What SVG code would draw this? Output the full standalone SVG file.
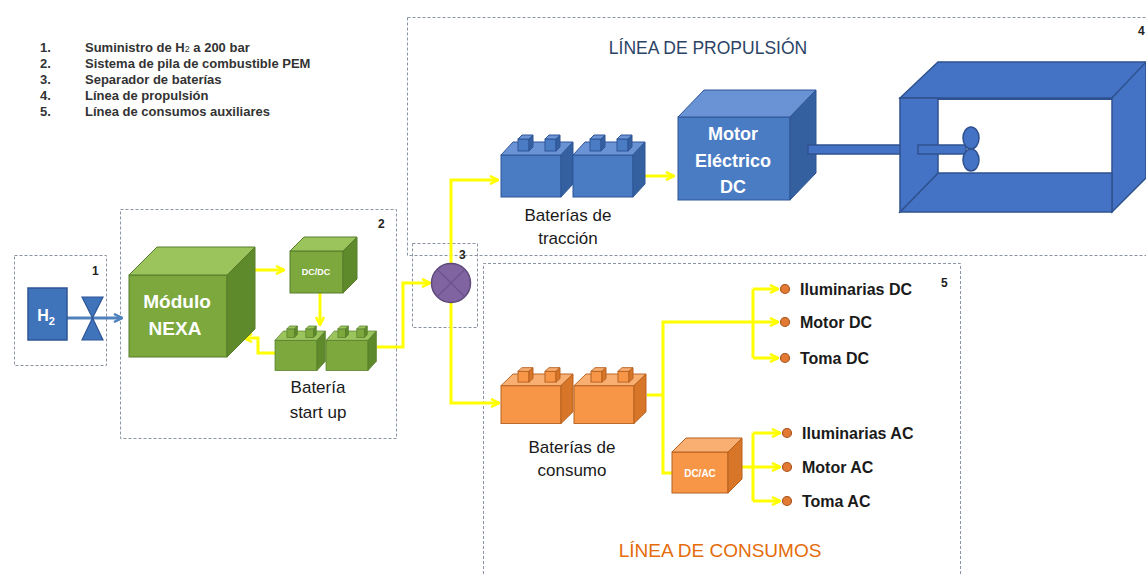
<svg xmlns="http://www.w3.org/2000/svg" xmlns:xlink="http://www.w3.org/1999/xlink" width="1146" height="574" viewBox="0 0 1146 574">
  <style>
    text { font-family: "Liberation Sans", Arial, sans-serif; }
    .legend { font-size: 13px; font-weight: bold; fill: #333; }
    .num { font-size: 12px; font-weight: bold; fill: #222; }
    .caption { font-size: 17px; fill: #1a1a1a; }
    .load { font-size: 16px; font-weight: bold; fill: #1a1a1a; }
    .cubetxt { font-weight: bold; fill: #fff; text-anchor: middle; }
    .zone { fill: none; stroke: #8a94a3; stroke-width: 1; stroke-dasharray: 3 2; }
    .wire { fill: none; stroke: #ffff00; stroke-width: 3; stroke-linejoin: miter; }
    .wire-a { marker-end: url(#yArrow); }
    .pipe { fill: none; stroke: #4f81bd; stroke-width: 3; marker-end: url(#bArrow); }
    .blue { --f: #4a7cc4; --t: #6a93d6; --s: #34609f; --k: #2f5597; }
    .green { --f: #7ca83d; --t: #9cc45d; --s: #5f8a2c; --k: #577d2a; }
    .orange { --f: #f79646; --t: #f9af72; --s: #d77628; --k: #b6601f; }
    .face-f { fill: var(--f); stroke: var(--k); stroke-width: 1; }
    .face-t { fill: var(--t); stroke: var(--k); stroke-width: 1; }
    .face-s { fill: var(--s); stroke: var(--k); stroke-width: 1; }
    .dot { fill: #e27a33; stroke: #a85520; stroke-width: 1.2; }
    .hull { fill: #4472c4; stroke: #2f528f; stroke-width: 1.5; }
  </style>
  <defs>
    <marker id="yArrow" viewBox="0 0 10 10" refX="9" refY="5" markerWidth="10" markerHeight="10" markerUnits="userSpaceOnUse" orient="auto">
      <path d="M1,1 L9,5 L1,9" fill="none" stroke="#ffff00" stroke-width="2.5"/>
    </marker>
    <marker id="bArrow" viewBox="0 0 10 10" refX="9" refY="5" markerWidth="10" markerHeight="10" markerUnits="userSpaceOnUse" orient="auto">
      <path d="M1,1 L9,5 L1,9" fill="none" stroke="#4f81bd" stroke-width="2.5"/>
    </marker>
    <!-- one battery cell: 3D body with two terminals, coloured through CSS variables -->
    <g id="cell">
      <rect class="face-f" x="0" y="13" width="60" height="42"/>
      <path class="face-t" d="M0,13 L12,0 L72,0 L60,13 Z"/>
      <path class="face-s" d="M60,13 L72,0 L72,42 L60,55 Z"/>
      <rect class="face-f" x="17" y="-3" width="11" height="12"/>
      <path class="face-t" d="M17,-3 L21,-7 L32,-7 L28,-3 Z"/>
      <path class="face-s" d="M28,-3 L32,-7 L32,5 L28,9 Z"/>
      <rect class="face-f" x="44" y="-3" width="11" height="12"/>
      <path class="face-t" d="M44,-3 L48,-7 L59,-7 L55,-3 Z"/>
      <path class="face-s" d="M55,-3 L59,-7 L59,5 L55,9 Z"/>
    </g>
  </defs>

  <rect width="1146" height="574" fill="#ffffff"/>

  <!-- legend -->
  <g id="legend">
    <text class="legend" x="40" y="52">1.</text><text class="legend" x="85" y="52">Suministro de H<tspan font-size="9" font-weight="normal">2</tspan> a 200 bar</text>
    <text class="legend" x="40" y="68">2.</text><text class="legend" x="85" y="68">Sistema de pila de combustible PEM</text>
    <text class="legend" x="40" y="84">3.</text><text class="legend" x="85" y="84">Separador de baterías</text>
    <text class="legend" x="40" y="100">4.</text><text class="legend" x="85" y="100">Línea de propulsión</text>
    <text class="legend" x="40" y="116">5.</text><text class="legend" x="85" y="116">Línea de consumos auxiliares</text>
  </g>

  <!-- dashed zones -->
  <g id="zones">
    <rect class="zone" x="14.5" y="255.5" width="92" height="110"/>
    <text class="num" x="92" y="275">1</text>
    <rect class="zone" x="120.5" y="209.5" width="276" height="229"/>
    <text class="num" x="378" y="228">2</text>
    <path class="zone" d="M407.5,17.5 H1146 M407.5,17.5 V255.5 H1146"/>
    <text class="num" x="1138" y="35">4</text>
    <rect class="zone" x="412.5" y="243.5" width="65" height="84"/>
    <text class="num" x="459" y="259">3</text>
    <path class="zone" d="M483.5,574 V263.5 H960.5 V574"/>
    <text class="num" x="941" y="287">5</text>
    <text x="708" y="54" text-anchor="middle" font-size="17.5" fill="#2b4466">LÍNEA DE PROPULSIÓN</text>
    <text x="720" y="557" text-anchor="middle" font-size="19" fill="#e46c0a">LÍNEA DE CONSUMOS</text>
  </g>

  <!-- connectors -->
  <g id="connectors">
    <path class="pipe" d="M67,318 H122"/>
    <path class="wire wire-a" d="M248,270 H284"/>
    <path class="wire wire-a" d="M320,293 V325"/>
    <path class="wire wire-a" d="M275,353 H258 V338 H244"/>
    <path class="wire wire-a" d="M377,347 H403 V283 H430"/>
    <path class="wire wire-a" d="M451,263 V180 H498"/>
    <path class="wire wire-a" d="M451,302 V403 H499"/>
    <path class="wire wire-a" d="M645,176 H674"/>
    <path class="wire" d="M647,395 H663"/>
    <path class="wire wire-a" d="M672,473 H663 V322 H778"/>
    <path class="wire" d="M753,289 V358"/>
    <path class="wire wire-a" d="M753,289 H778"/>
    <path class="wire wire-a" d="M753,358 H778"/>
    <path class="wire wire-a" d="M735,467 H780"/>
    <path class="wire" d="M753,433 V501"/>
    <path class="wire wire-a" d="M753,433 H780"/>
    <path class="wire wire-a" d="M753,501 H780"/>
  </g>

  <!-- hydrogen supply -->
  <g id="h2">
    <rect x="28" y="288" width="39" height="52" fill="#3f73ba" stroke="#2f5597" stroke-width="1.5"/>
    <text x="46" y="321" class="cubetxt" font-size="16">H<tspan font-size="11" dy="4">2</tspan></text>
  </g>
  <g id="valve">
    <path d="M82,297 H103 L92.5,318 Z M82,340 H103 L92.5,318 Z" fill="#3f73ba" stroke="#2f5597" stroke-width="1.2"/>
  </g>

  <!-- fuel cell module -->
  <g id="modulo-nexa" class="green">
    <rect class="face-f" x="129" y="275" width="98" height="82"/>
    <path class="face-t" d="M129,275 L157,247 L255,247 L227,275 Z"/>
    <path class="face-s" d="M227,275 L255,247 L255,329 L227,357 Z"/>
    <text class="cubetxt" x="177" y="308" font-size="19">Módulo</text>
    <text class="cubetxt" x="175" y="335" font-size="19">NEXA</text>
  </g>

  <g id="dcdc" class="green">
    <rect class="face-f" x="290" y="251" width="53" height="42"/>
    <path class="face-t" d="M290,251 L304,237 L357,237 L343,251 Z"/>
    <path class="face-s" d="M343,251 L357,237 L357,279 L343,293 Z"/>
    <text class="cubetxt" x="316" y="275" font-size="9">DC/DC</text>
  </g>

  <g id="bateria-startup" class="green">
    <use xlink:href="#cell" transform="translate(275,331) scale(0.7,0.72)"/>
    <use xlink:href="#cell" transform="translate(326,331) scale(0.7,0.72)"/>
    <text class="caption" x="318" y="393" text-anchor="middle">Batería</text>
    <text class="caption" x="318" y="418" text-anchor="middle">start up</text>
  </g>

  <!-- battery separator -->
  <g id="separador">
    <circle cx="451" cy="283" r="19.5" fill="#8064a2" stroke="#5f497a" stroke-width="1.5"/>
    <path d="M437.2,269.2 L464.8,296.8 M464.8,269.2 L437.2,296.8" stroke="#6d5491" stroke-width="1.5"/>
  </g>

  <!-- propulsion line -->
  <g id="baterias-traccion" class="blue">
    <use xlink:href="#cell" transform="translate(501,142)"/>
    <use xlink:href="#cell" transform="translate(573,142)"/>
    <text class="caption" x="568" y="221" text-anchor="middle">Baterías de</text>
    <text class="caption" x="568" y="244" text-anchor="middle">tracción</text>
  </g>

  <g id="motor-dc" class="blue">
    <rect class="face-f" x="678" y="117" width="112" height="83"/>
    <path class="face-t" d="M678,117 L704,90 L816,90 L790,117 Z"/>
    <path class="face-s" d="M790,117 L816,90 L816,173 L790,200 Z"/>
    <text class="cubetxt" x="733" y="140" font-size="18">Motor</text>
    <text class="cubetxt" x="733" y="167" font-size="18">Eléctrico</text>
    <text class="cubetxt" x="733" y="193" font-size="18">DC</text>
  </g>

  <g id="eje-helice">
    <rect class="hull" x="808" y="145" width="93" height="9"/>
    <path class="hull" d="M900,98 L938,62 L1146,62 L1146,64 L1112,98 Z"/>
    <path class="hull" d="M1112,98 L1146,62 L1146,178 L1112,212 Z"/>
    <path class="hull" d="M900,212 L938,173 L1112,173 L1112,212 Z"/>
    <path class="hull" d="M900,98 L938,98 L938,173 L900,212 Z"/>
    <path d="M938,99 H1112" stroke="#2f528f" stroke-width="2"/>
    <rect class="hull" x="918" y="145" width="48" height="9"/>
    <ellipse class="hull" cx="971" cy="138" rx="8" ry="11"/>
    <ellipse class="hull" cx="971" cy="160" rx="8" ry="11"/>
  </g>

  <!-- auxiliary consumption line -->
  <g id="baterias-consumo" class="orange">
    <use xlink:href="#cell" transform="translate(501,374) scale(1,0.9)"/>
    <use xlink:href="#cell" transform="translate(574,374) scale(1,0.9)"/>
    <text class="caption" x="572" y="453" text-anchor="middle">Baterías de</text>
    <text class="caption" x="572" y="476" text-anchor="middle">consumo</text>
  </g>

  <g id="dcac" class="orange">
    <rect class="face-f" x="672" y="452" width="56" height="41"/>
    <path class="face-t" d="M672,452 L686,438 L742,438 L728,452 Z"/>
    <path class="face-s" d="M728,452 L742,438 L742,479 L728,493 Z"/>
    <text class="cubetxt" x="700" y="477" font-size="10">DC/AC</text>
  </g>

  <g id="cargas-dc">
    <circle class="dot" cx="785" cy="289" r="4.5"/>
    <text class="load" x="800" y="295">Iluminarias DC</text>
    <circle class="dot" cx="785" cy="322" r="4.5"/>
    <text class="load" x="800" y="328">Motor DC</text>
    <circle class="dot" cx="785" cy="358" r="4.5"/>
    <text class="load" x="800" y="364">Toma DC</text>
  </g>

  <g id="cargas-ac">
    <circle class="dot" cx="787" cy="433" r="4.5"/>
    <text class="load" x="802" y="439">Iluminarias AC</text>
    <circle class="dot" cx="787" cy="467" r="4.5"/>
    <text class="load" x="802" y="473">Motor AC</text>
    <circle class="dot" cx="787" cy="501" r="4.5"/>
    <text class="load" x="802" y="507">Toma AC</text>
  </g>
</svg>
